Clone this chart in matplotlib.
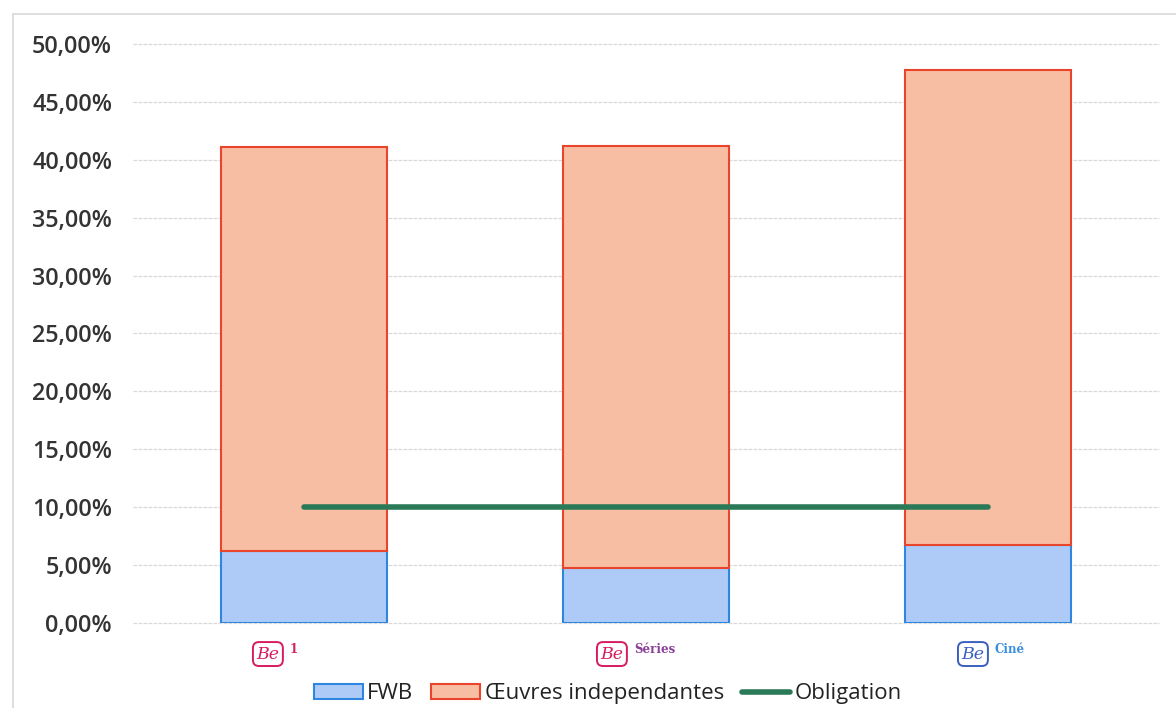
import matplotlib
matplotlib.use("Agg")
import matplotlib.pyplot as plt
import matplotlib.transforms as mtransforms
from matplotlib.patches import Rectangle
from matplotlib.ticker import FuncFormatter
import numpy as np

categories = ["Be 1", "Be Séries", "Be Ciné"]
fwb = [6.2, 4.75, 6.7]
oeuvres = [34.9, 36.45, 41.05]
obligation = [10.0, 10.0, 10.0]
yticks = [0, 5, 10, 15, 20, 25, 30, 35, 40, 45, 50]

plt.rcParams['font.family'] = ['Open Sans', 'DejaVu Sans']

fig = plt.figure(figsize=(11.76, 7.08), dpi=100)
ax = fig.add_axes([0.113, 0.12, 0.8725, 0.818])

x = np.arange(len(categories))
w = 0.485
ax.bar(x, fwb, w, color='#aecbf7', edgecolor='#2f86e0', linewidth=1.5, label='FWB', zorder=2)
ax.bar(x, oeuvres, w, bottom=fwb, color='#f8bea4', edgecolor='#e8452c', linewidth=1.5,
       label='Œuvres independantes', zorder=2)
ax.plot(x, obligation, color='#2a7a58', linewidth=4, solid_capstyle='round',
        label='Obligation', zorder=3)

ax.set_xlim(-0.5, 2.5)
ax.set_ylim(0, 50)
ax.set_yticks(yticks)
ax.yaxis.set_major_formatter(FuncFormatter(lambda v, p: f"{v:.2f}%".replace('.', ',')))
ax.grid(axis='y', color='#d8d8d8', linewidth=0.9, linestyle=(0, (3, 1)), zorder=0)
for gl in ax.get_ygridlines():
    gl.set_clip_on(False)
for s in ax.spines.values():
    s.set_visible(False)
ax.tick_params(axis='y', length=0, pad=15, labelsize=16.8, labelcolor='#333333')
for t in ax.get_yticklabels():
    t.set_fontweight('semibold')
ax.tick_params(axis='x', length=0)
ax.set_xticks(x)
ax.set_xticklabels(['', '', ''])

# logo-like category labels (box "Be" + superscript), offsets in pixels
logo_styles = [
    ('1', '#d81b60', '#d81b60', -36),
    ('Séries', '#d81b60', '#8a3f9a', -34),
    ('Ciné', '#3b5fc0', '#3a8ee0', -15),
]
base = mtransforms.blended_transform_factory(ax.transData, ax.transAxes)
for xi, (sup, boxc, supc, dx) in zip(x, logo_styles):
    tb = mtransforms.offset_copy(base, fig=fig, x=dx, y=-31, units='dots')
    ax.text(xi, 0, 'Be', transform=tb, ha='center', va='center', fontsize=12.5,
            style='italic', color=boxc, family='DejaVu Serif',
            bbox=dict(boxstyle='round,pad=0.2,rounding_size=0.35', fc='white', ec=boxc, lw=1.4),
            clip_on=False)
    ts = mtransforms.offset_copy(base, fig=fig, x=dx + 22, y=-26, units='dots')
    ax.text(xi, 0, sup, transform=ts, ha='left', va='center', fontsize=8.5,
            fontweight='bold', color=supc, family='DejaVu Serif', clip_on=False)

handles, labels = ax.get_legend_handles_labels()
order = [labels.index('FWB'), labels.index('Œuvres independantes'), labels.index('Obligation')]
leg = fig.legend([handles[i] for i in order], [labels[i] for i in order], loc='center',
                 bbox_to_anchor=(0.517, 0.02), ncol=3, frameon=False, fontsize=16,
                 handlelength=2.2, handleheight=0.65, columnspacing=0.8, handletextpad=0.2)
for t in leg.get_texts():
    t.set_color('#222222')

fig.patches.append(Rectangle((13 / 1176, -0.05), 1.1, 1.05 - 14 / 708, transform=fig.transFigure,
                             fill=False, ec='#d8d8d8', lw=1.2))

fig.savefig('out.png', dpi=100)
